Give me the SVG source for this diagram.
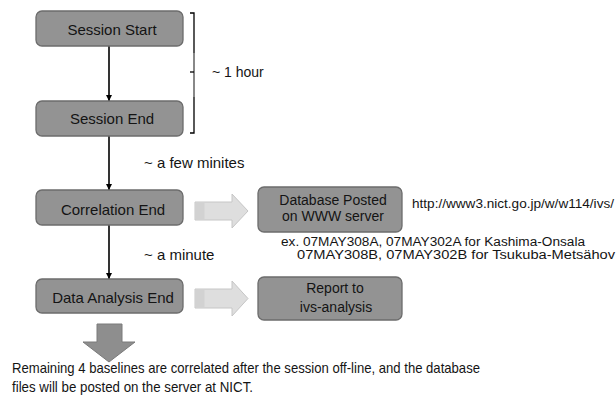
<svg xmlns="http://www.w3.org/2000/svg" width="616" height="404" viewBox="0 0 616 404">
  <style>
    .box { fill: #939393; stroke: #6c6c6c; stroke-width: 1.3; }
    .lbl { font-family: "Liberation Sans", Arial, sans-serif; font-size: 15px; fill: #141414; text-anchor: middle; }
    .lbl14 { font-family: "Liberation Sans", Arial, sans-serif; font-size: 14px; fill: #141414; text-anchor: middle; }
    .note { font-family: "Liberation Sans", Arial, sans-serif; fill: #141414; }
    .link { stroke: #000; stroke-width: 1.6; fill: none; marker-end: url(#tip); }
    .hollow { fill: #dedede; stroke: #c6c6c6; stroke-width: 1; }
  </style>
  <defs>
    <marker id="tip" viewBox="0 0 10 10" refX="10" refY="5" markerWidth="4" markerHeight="4" orient="auto" markerUnits="strokeWidth">
      <path d="M0,0 L10,5 L0,10 z" fill="#000"/>
    </marker>
  </defs>
  <rect width="616" height="404" fill="#fff"/>

  <!-- vertical flow connectors -->
  <g id="connectors">
    <line class="link" x1="109" y1="46" x2="109" y2="101"/>
    <line class="link" x1="109" y1="136" x2="109" y2="190"/>
    <line class="link" x1="109" y1="225" x2="109" y2="279"/>
    <!-- side arrows to outputs -->
    <path class="hollow" d="M195,202 H232 V194 L248,211 L232,228 V220 H195 Z"/>
    <rect x="195.5" y="202.5" width="9" height="17" fill="#d2d2d2"/>
    <path class="hollow" d="M195,289 H232 V281 L248,298.5 L232,316 V308 H195 Z"/>
    <rect x="195.5" y="289.5" width="9" height="18" fill="#d2d2d2"/>
    <!-- off-line continuation arrow -->
    <path d="M97,324 H122 V342 H135 L109,362 L83,342 H97 Z" fill="#8e8e8e" stroke="#7a7a7a" stroke-width="1"/>
  </g>

  <!-- duration bracket -->
  <g id="bracket">
    <path d="M190,13 H194 V133 H190" fill="none" stroke="#000" stroke-width="1.3"/>
    <line x1="194" y1="53" x2="194" y2="97" stroke="#888" stroke-width="2"/>
    <line x1="190" y1="72" x2="194" y2="72" stroke="#000" stroke-width="1.3"/>
    <text class="note" x="212" y="77" font-size="14">~ 1 hour</text>
  </g>

  <g id="session-start">
    <rect class="box" x="36" y="11" width="147" height="35" rx="6"/>
    <text class="lbl" x="112" y="35">Session Start</text>
  </g>
  <g id="session-end">
    <rect class="box" x="36" y="101" width="147" height="35" rx="6"/>
    <text class="lbl" x="112" y="124">Session End</text>
  </g>
  <g id="correlation-end">
    <rect class="box" x="36" y="190" width="147" height="35" rx="6"/>
    <text class="lbl" x="113" y="215">Correlation End</text>
  </g>
  <g id="analysis-end">
    <rect class="box" x="36" y="279" width="147" height="34" rx="6"/>
    <text class="lbl" x="113" y="303">Data Analysis End</text>
  </g>
  <g id="database-posted">
    <rect class="box" x="258" y="187" width="144" height="45" rx="6"/>
    <text class="lbl14" x="333" y="205">Database Posted</text>
    <text class="lbl14" x="333" y="221">on WWW server</text>
  </g>
  <g id="report">
    <rect class="box" x="258" y="277" width="144" height="43" rx="6"/>
    <text class="lbl14" x="335" y="293">Report  to</text>
    <text class="lbl14" x="336" y="312">ivs-analysis</text>
  </g>

  <!-- annotations -->
  <text class="note" x="144" y="168" font-size="15">~ a few minites</text>
  <text class="note" x="144" y="260" font-size="15">~ a minute</text>
  <text class="note" x="412" y="208" font-size="12" textLength="202" lengthAdjust="spacingAndGlyphs">http://www3.nict.go.jp/w/w114/ivs/</text>
  <text class="note" x="281" y="246" font-size="12.5" textLength="304" lengthAdjust="spacingAndGlyphs">ex. 07MAY308A, 07MAY302A for Kashima-Onsala</text>
  <text class="note" x="297" y="259" font-size="12.5" textLength="318" lengthAdjust="spacingAndGlyphs">07MAY308B, 07MAY302B for Tsukuba-Metsähov</text>
  <text class="note" x="12" y="373" font-size="15" textLength="468" lengthAdjust="spacingAndGlyphs">Remaining 4 baselines are correlated after the session off-line, and the database</text>
  <text class="note" x="12" y="392" font-size="15" textLength="241" lengthAdjust="spacingAndGlyphs">files will be posted on the server at NICT.</text>
</svg>
